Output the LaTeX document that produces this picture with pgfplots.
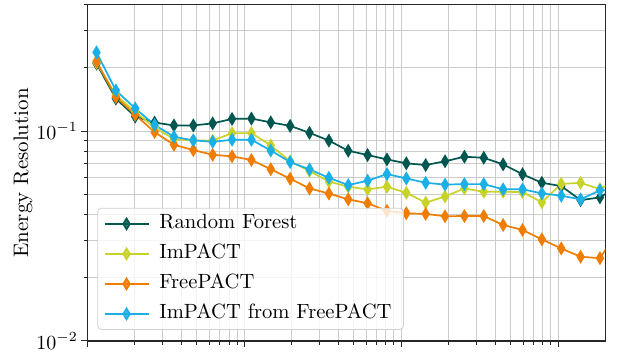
\documentclass[border=0pt]{standalone}
\usepackage{pgfplots}
\usepackage{pgfplotstable}
\pgfplotsset{compat=1.18}
\definecolor{rfcol}{HTML}{00574F}
\definecolor{impcol}{HTML}{C8D32A}
\definecolor{freecol}{HTML}{F07C00}
\definecolor{ifpcol}{HTML}{1AAFE6}
\pgfplotstableread{
x       rf      imp     free    ifp
1.1447  0.2096  0.2120  0.2147  0.2371
1.5208  0.1428  0.1484  0.1452  0.1562
2.0206  0.1172  0.1236  0.1196  0.1282
2.6845  0.1098  0.1039  0.0989  0.1070
3.5666  0.1064  0.0916  0.0860  0.0940
4.7386  0.1064  0.0903  0.0812  0.0903
6.2957  0.1088  0.0901  0.0771  0.0889
8.3645  0.1143  0.0978  0.0758  0.0909
11.113  0.1147  0.0978  0.0728  0.0909
14.765  0.1100  0.0855  0.0658  0.0808
19.617  0.1059  0.0718  0.0593  0.0712
26.063  0.0981  0.0645  0.0533  0.0657
34.627  0.0901  0.0575  0.0504  0.0599
46.006  0.0806  0.0543  0.0473  0.0553
61.124  0.0769  0.0528  0.0453  0.0580
81.21   0.0733  0.0543  0.0417  0.0624
107.89  0.0702  0.0508  0.0406  0.0595
143.35  0.0689  0.0456  0.0403  0.0567
190.45  0.0718  0.0488  0.0393  0.0556
253.03  0.0755  0.0533  0.0394  0.0559
336.18  0.0746  0.0514  0.0394  0.0559
446.65  0.0694  0.0514  0.0357  0.0528
593.42  0.0623  0.0512  0.0338  0.0528
788.42  0.0567  0.0458  0.0305  0.0505
1047.5  0.0547  0.0560  0.0276  0.0492
1391.7  0.0469  0.0567  0.0252  0.0473
1849.0  0.0483  0.0529  0.0248  0.0522
2456.6  0.0553  0.0591  0.0342  0.0524
}\data
\begin{document}
\begin{tikzpicture}
\useasboundingbox (-43.65pt,-7.5pt) rectangle (264.85pt,170.5pt);
\begin{axis}[
  at={(0pt,0pt)}, anchor=south west,
  scale only axis, width=259pt, height=168.15pt,
  xmode=log, ymode=log,
  xmin=1, xmax=2000, ymin=0.01, ymax=0.4,
  xticklabels={},
  tick pos=left,
  tick align=outside,
  major tick length=3pt, minor tick length=1.8pt,
  tick style={black!85, line width=0.5pt},
  axis line style={black!85, line width=0.6pt},
  grid=both,
  major grid style={gray!40, line width=0.5pt},
  minor grid style={gray!40, line width=0.5pt},
  ylabel={Energy Resolution},
  every axis y label/.style={at={(axis description cs:-0.124,0.5)}, rotate=90, anchor=center},
  label style={font=\fontsize{10.5}{12}\selectfont},
  yticklabel style={font=\fontsize{10}{12}\selectfont, inner xsep=1.5pt},
  every axis plot/.append style={line width=0.85pt, mark=diamond*, mark size=2.7pt, mark options={solid, xscale=0.8}},
  legend image code/.code={\draw[mark repeat=2,mark phase=2,#1] plot coordinates {(0pt,0pt) (11pt,0pt) (22pt,0pt)};},
  legend cell align=left,
  legend style={at={(axis description cs:0.0193,0.0327)}, anchor=south west,
    draw=black!18, rounded corners=2pt, fill=white, fill opacity=0.8, draw opacity=1, text opacity=1,
    inner sep=3pt, row sep=5.3pt, column sep=2pt,
    nodes={inner xsep=3pt, inner ysep=0pt, text height=7.3pt, text depth=2.4pt},
    font=\fontsize{10.3}{12}\selectfont},
]
\addplot[color=rfcol] table[x=x, y=rf] {\data};
\addlegendentry{Random Forest}
\addplot[color=impcol] table[x=x, y=imp] {\data};
\addlegendentry{ImPACT}
\addplot[color=freecol] table[x=x, y=free] {\data};
\addlegendentry{FreePACT}
\addplot[color=ifpcol] table[x=x, y=ifp] {\data};
\addlegendentry{ImPACT from FreePACT}
\end{axis}
\end{tikzpicture}
\end{document}
